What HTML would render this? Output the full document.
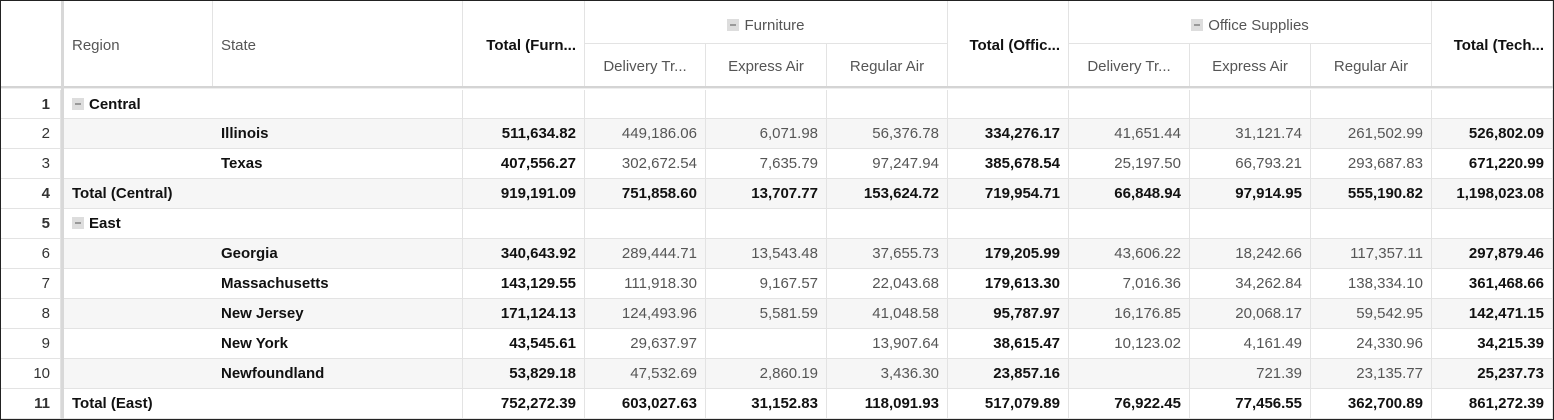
<!DOCTYPE html>
<html><head><meta charset="utf-8">
<style>
html,body{margin:0;padding:0;background:#fff;}
body{width:1554px;height:420px;overflow:hidden;font-family:"Liberation Sans",Arial,sans-serif;font-size:15px;color:#111;}
#grid{position:absolute;left:0;top:0;width:1552px;height:418px;border:1px solid #222;box-sizing:content-box;}
.c{position:absolute;box-sizing:border-box;white-space:nowrap;overflow:hidden;border-right:1px solid #e3e3e3;border-bottom:1px solid #e3e3e3;line-height:29px;padding:0 8px;}
.h{color:#555;}
.b{font-weight:bold;color:#111;}
.r{text-align:right;}
.n{text-align:right;padding-right:10px;color:#333;}
.g{color:#555;}
.tog{display:inline-block;width:12px;height:12px;background:#ddd;vertical-align:-1px;margin-right:5px;position:relative;}
.tog:after{content:"";position:absolute;left:3px;top:5px;width:6px;height:1.5px;background:#999;}
</style></head><body>
<div id="grid"></div>
<script>
const colX=[0,61,212,462,584,705,826,947,1068,1189,1310,1431,1552];
const rowY=[88,118,148,178,208,238,268,298,328,358,388,418];
const rowLabels=["1","2","3","4","5","6","7","8","9","10","11"];
const rowKind=["group","state","state","total","group","state","state","state","state","state","total"];
const regionText=["Central","","","Total (Central)","East","","","","","","Total (East)"];
const stateText=["","Illinois","Texas","","","Georgia","Massachusetts","New Jersey","New York","Newfoundland",""];
const values=[
["","","","","","","","",""],
["511,634.82","449,186.06","6,071.98","56,376.78","334,276.17","41,651.44","31,121.74","261,502.99","526,802.09"],
["407,556.27","302,672.54","7,635.79","97,247.94","385,678.54","25,197.50","66,793.21","293,687.83","671,220.99"],
["919,191.09","751,858.60","13,707.77","153,624.72","719,954.71","66,848.94","97,914.95","555,190.82","1,198,023.08"],
["","","","","","","","",""],
["340,643.92","289,444.71","13,543.48","37,655.73","179,205.99","43,606.22","18,242.66","117,357.11","297,879.46"],
["143,129.55","111,918.30","9,167.57","22,043.68","179,613.30","7,016.36","34,262.84","138,334.10","361,468.66"],
["171,124.13","124,493.96","5,581.59","41,048.58","95,787.97","16,176.85","20,068.17","59,542.95","142,471.15"],
["43,545.61","29,637.97","","13,907.64","38,615.47","10,123.02","4,161.49","24,330.96","34,215.39"],
["53,829.18","47,532.69","2,860.19","3,436.30","23,857.16","","721.39","23,135.77","25,237.73"],
["752,272.39","603,027.63","31,152.83","118,091.93","517,079.89","76,922.45","77,456.55","362,700.89","861,272.39"]
];
const boldCols=[0,4,8];
const grid=document.getElementById('grid');
function cell(x1,x2,y1,y2,cls,html,name){
  const d=document.createElement('div');
  d.className='c '+cls;
  d.style.left=x1+'px';d.style.top=y1+'px';d.style.width=(x2-x1)+'px';d.style.height=(y2-y1)+'px';
  d.innerHTML=html;
  
  
  grid.appendChild(d);return d;
}
let c;
cell(0,61,0,86,'','', 'corner-header');
c=cell(61,212,0,86,'h','Region','region-header');c.style.lineHeight='90px';c.style.paddingLeft='10px';
c=cell(212,462,0,86,'h','State','state-header');c.style.lineHeight='90px';
const totals=[[462,584,'Total (Furn...','total-furniture-header'],[947,1068,'Total (Offic...','total-office-header'],[1431,1552,'Total (Tech...','total-tech-header']];
totals.forEach(t=>{c=cell(t[0],t[1],0,86,'b r',t[2],t[3]);c.style.lineHeight='90px';});
c=cell(584,947,0,43,'h','<span class="tog"></span>Furniture','furniture-group-header');c.style.textAlign='center';c.style.lineHeight='50px';
c=cell(1068,1431,0,43,'h','<span class="tog"></span>Office Supplies','office-group-header');c.style.textAlign='center';c.style.lineHeight='50px';
const subs=['Delivery Tr...','Express Air','Regular Air'];
[[584,705,826,947],[1068,1189,1310,1431]].forEach((xs,gi)=>{
  for(let i=0;i<3;i++){c=cell(xs[i],xs[i+1],43,86,'h',subs[i],'subheader-'+gi+'-'+i);c.style.textAlign='center';c.style.lineHeight='46px';}
});
const hl=document.createElement('div');
hl.style.cssText='position:absolute;left:0;top:85px;width:1552px;height:3px;background:#d4d4d4;border-bottom:1px solid #eee;box-sizing:border-box';


grid.appendChild(hl);
const vl=document.createElement('div');
vl.style.cssText='position:absolute;left:60px;top:0;width:3px;height:418px;background:#d8d8d8';


grid.appendChild(vl);
for(let r=0;r<rowLabels.length;r++){
  const y1=rowY[r]+(r==0?1:0),y2=rowY[r+1];
  const shade=(r%2==1)?'#f6f6f6':'#fff';
  const bold=rowKind[r]!=='state';
  c=cell(0,60,y1,y2,'n'+(bold?' b':''),rowLabels[r],'row-number-'+rowLabels[r]);
  if(rowKind[r]==='group'){
    c=cell(63,462,y1,y2,'b','<span class="tog"></span>'+regionText[r],'region-group-'+regionText[r].toLowerCase());
  }else if(rowKind[r]==='total'){
    c=cell(63,462,y1,y2,'b',regionText[r],'region-total-row-'+rowLabels[r]);c.style.background=shade;
  }else{
    c=cell(63,212,y1,y2,'','', 'region-cell-'+rowLabels[r]);c.style.background=shade;c.style.borderRight='none';
    c=cell(212,462,y1,y2,'b',stateText[r],'state-'+stateText[r].toLowerCase().replace(/ /g,'-'));c.style.background=shade;
  }
  for(let k=0;k<9;k++){
    const b=bold||boldCols.includes(k);
    c=cell(colX[k+3],colX[k+4],y1,y2,'r '+(b?'b':'g'),values[r][k],'value-r'+rowLabels[r]+'-c'+k);
    c.style.background=shade;
  }
}
</script>
</body></html>
